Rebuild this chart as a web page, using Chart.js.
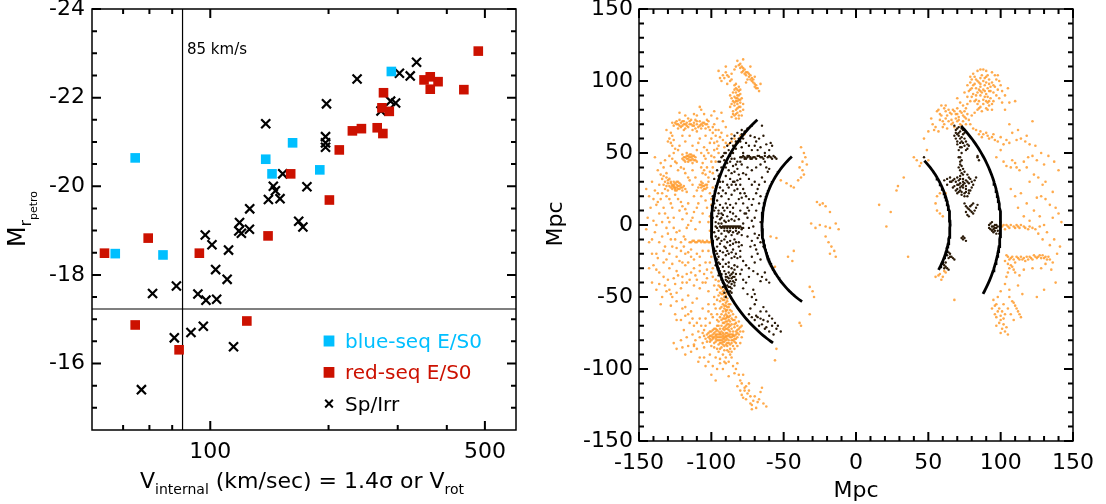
<!DOCTYPE html>
<html>
<head>
<meta charset="utf-8">
<script src="https://cdn.jsdelivr.net/npm/chart.js@4.4.1/dist/chart.umd.min.js"></script>
<style>
  html, body { margin: 0; padding: 0; background: #fff; }
  #wrap { position: relative; width: 1106px; height: 504px; }
  canvas { position: absolute; top: 0; }
  #left { left: 0; }
  #right { left: 530px; }
</style>
</head>
<body>
<div id="wrap">
  <canvas id="left" width="530" height="504"></canvas>
  <canvas id="right" width="576" height="504"></canvas>
</div>
<script>
const FONT = '"DejaVu Sans", "Liberation Sans", sans-serif';
Chart.defaults.font.family = FONT;
Chart.defaults.color = '#000';

// ---- left panel: internal velocity vs. Petrosian r magnitude ----
const blueSeqV = [64.4, 57.3, 75.8, 138.4, 143.6, 162, 190, 289];
const blueSeqM = [-20.64, -18.48, -18.45, -20.61, -20.28, -20.98, -20.37, -22.59];

const redSeqV = [53.8, 69.5, 64.4, 83.3, 93.8, 123.9, 140.3, 160.2, 201, 213, 230, 242.5,
                 266, 275, 273.5, 276, 285.5, 350, 363, 380, 363, 442, 481];
const redSeqM = [-18.49, -18.83, -16.87, -16.31, -18.49, -16.96, -18.88, -20.28, -19.69, -20.82, -21.25, -21.30,
                 -21.32, -21.19, -21.77, -22.11, -21.69, -22.40, -22.47, -22.36, -22.19, -22.18, -23.05];

const spIrrV = [66.8, 71.3, 82.0, 81.0, 89.3, 96.0, 114.6, 93.0, 97.5, 103.8, 103.2, 110.4, 97.1, 101,
                111.3, 118.2, 118.7, 125.8, 126, 120, 140.6, 144.7, 146.5, 150.5, 152.9, 138.4, 176.2,
                167.9, 172.1, 197.6, 196.5, 196.5, 196.5, 236.4, 287.7, 296.3, 303, 322.8, 335, 272];
const spIrrM = [-15.41, -17.58, -17.75, -16.58, -16.70, -16.84, -16.38, -17.57, -17.43, -17.45, -18.12, -17.90, -18.90, -18.68,
                -18.56, -18.99, -19.18, -19.03, -19.49, -18.94, -19.70, -20.00, -19.90, -19.72, -20.28, -21.41, -19.99,
                -19.21, -19.08, -21.86, -21.12, -20.98, -20.88, -22.42, -21.92, -21.88, -22.55, -22.49, -22.80, -21.70];

const vCut = 85;          // km/s divider
const magCut = -17.23;    // magnitude divider
const vRange = [50, 600];
const magRange = [-24, -14.5];
const vTicks = [100, 500];
const vMinor = [60, 70, 80, 200, 300, 400];
const magTicks = [-24, -22, -20, -18, -16];
const magMinor = [-23.5, -23, -22.5, -21.5, -21, -20.5, -19.5, -19, -18.5, -17.5, -17, -16.5, -15.5, -15];

// ---- right panel: galaxy positions in the slice (Mpc) ----
const westOrange = [
  // northern streak and knot
  [-82,114],[-81,111],[-80,109],[-79,110],[-78,107],[-77,108],[-77,105],[-76,104],[-75,106],[-74,103],
  [-73,104],[-73,101],[-72,100],[-71,101],[-70,98],[-70,96],[-69,97],[-68,95],[-67,93],[-75,101],[-76,99],
  [-80,112],[-78,109],[-76,106],[-74,105],[-72,102],[-71,99],[-69,95],[-79,106],[-84,108],[-83,110],
  [-86,101],[-89,104],[-94,102],[-95,107],[-90,110],[-78,115],[-73,110],[-70,103],[-66,98],
  [-92,104],[-90,106],[-91,102],[-88,103],[-87,100],[-89,98],[-86,105],[-93,100],
  [-84,97],[-83,95],[-82,94],[-81,93],[-83,92],[-82,90],[-80,91],[-84,89],[-82,88],[-81,87],[-83,86],
  [-80,85],[-82,84],[-84,83],[-81,82],[-83,80],[-85,79],[-82,78],[-80,79],[-84,76],[-86,75],[-83,74],
  [-81,76],[-79,88],[-78,84],[-86,88],[-85,92],[-87,82],
  [-83,98],[-84,94],[-81,90],[-83,88],[-80,87],[-82,86],[-84,85],[-82,81],[-80,82],[-83,77],[-85,77],
  [-81,74],[-79,76],[-78,80],[-86,84],[-85,86],[-87,90],[-81,96],[-80,94],
  // band near y = 70
  [-126,69],[-124,72],[-123,70],[-122,73],[-121,71],[-120,69],[-119,72],[-118,70],[-117,71],[-116,68],
  [-115,72],[-114,70],[-113,69],[-112,71],[-111,73],[-110,70],[-109,68],[-108,72],[-107,70],[-106,69],
  [-105,71],[-104,67],[-103,70],[-121,68],[-118,67],[-116,74],[-113,66],[-110,65],[-123,67],[-119,66],
  [-114,73],[-108,82],[-107,80],[-112,77],[-118,76],[-100,76],[-102,72],[-98,70],[-96,74],
  [-125,71],[-122,69],[-120,72],[-117,69],[-115,70],[-112,69],[-110,72],[-108,69],[-106,71],[-104,70],
  [-102,68],[-119,70],[-124,70],[-127,71],[-111,67],[-107,67],[-103,73],[-99,68],[-97,66],
  [-131,66],[-120,62],[-115,62],[-108,60],[-104,62],[-122,78],[-110,76],[-105,77],[-98,79],[-93,78],
  [-92,72],[-90,68],[-95,66],[-93,64],[-89,62],[-86,63],[-84,60],[-80,62],[-77,63],[-81,58],
  [-128,64],[-127,62],[-129,60],[-126,59],[-128,57],[-127,55],[-125,53],[-130,58],
  [-101,66],[-99,64],[-97,62],[-100,60],[-96,58],[-94,61],[-92,59],[-90,57],[-88,56],[-86,58],
  [-84,55],[-83,57],[-95,55],[-98,57],[-91,54],
  [-122,55],[-118,58],[-113,55],[-109,57],[-105,54],[-102,50],[-100,44],[-99,40],[-98,47],[-96,53],
  [-101,57],[-103,52],[-105,48],[-106,43],[-103,40],[-101,37],
  // knot near (-115, 46)
  [-120,49],[-118,47],[-117,48],[-116,46],[-115,47],[-114,45],[-113,46],[-112,48],[-111,45],[-116,44],
  [-119,45],[-114,49],[-113,43],[-117,50],[-115,45],[-118,44],
  [-117,46],[-115,49],[-113,48],[-112,45],[-114,47],[-116,48],[-119,47],[-111,47],[-110,44],[-120,46],
  [-126,50],[-123,52],[-129,48],[-132,45],[-125,44],[-121,40],[-110,52],[-107,50],[-104,46],[-100,48],
  [-98,52],[-133,40],[-137,38],[-123,38],[-118,36],[-113,38],[-111,33],[-115,31],
  [-116,33],[-119,39],[-124,43],[-128,41],[-131,36],[-135,43],[-139,47],[-127,46],
  [-107,40],[-105,38],[-104,35],[-102,33],[-106,36],
  [-135,35],[-133,34],[-131,33],[-129,32],[-132,30],[-128,29],[-130,31],[-134,32],
  // groups near (-125, 27) and (-106, 27)
  [-127,28],[-126,27],[-125,26],[-124,28],[-123,27],[-122,25],[-121,26],[-125,29],[-127,25],[-120,24],
  [-119,27],[-128,26],[-124,24],[-126,30],[-122,29],[-125,24],[-123,30],
  [-126,26],[-124,26],[-123,25],[-122,27],[-121,28],[-127,27],[-129,27],[-130,29],[-125,25],[-124,30],
  [-126,28],[-120,26],[-118,25],[-117,23],[-131,27],[-133,28],[-128,30],[-132,25],
  [-108,28],[-107,26],[-106,27],[-105,25],[-104,28],[-106,24],[-103,26],[-107,30],
  [-105,27],[-106,29],[-104,25],[-107,28],[-103,28],[-109,26],
  [-125,21],[-123,18],[-121,16],[-120,13],[-118,11],[-117,8],[-116,15],[-122,10],
  [-140,18],[-142,12],[-144,5],[-140,3],[-145,-3],[-143,-12],[-141,-20],[-143,-30],
  [-138,-20],[-134,-8],[-131,-2],[-136,8],[-145,25],[-137,22],
  [-138,14],[-135,18],[-133,12],[-139,-5],[-136,-12],[-132,-15],[-130,5],[-128,15],[-131,20],[-112,20],
  [-110,12],[-113,5],[-108,2],[-111,-3],[-106,8],[-104,17],[-116,0],[-120,4],[-126,5],[-124,-5],[-128,-10],
  [-143,20],[-139,24],[-141,30],[-136,28],[-134,22],[-130,24],[-137,16],[-129,18],[-127,12],[-132,8],
  [-129,2],[-126,-2],[-122,-4],[-119,-8],[-117,-2],[-114,3],[-112,9],[-109,15],[-107,20],[-110,24],[-113,28],
  [-102,30],[-101,22],[-100,18],[-103,12],[-101,6],[-99,36],[-97,44],[-95,50],
  [-99,26],[-100,14],[-102,2],[-101,-4],[-100,-8],
  // filaments south of the equator
  [-115,-12],[-113,-11],[-111,-12],[-109,-11],[-107,-12],[-105,-12],[-103,-11],[-101,-12],[-118,-10],[-99,-13],
  [-114,-12],[-112,-11],[-110,-12],[-108,-11],[-106,-11],[-104,-12],[-102,-12],[-100,-11],
  [-124,-16],[-121,-18],[-119,-15],[-116,-19],[-114,-17],
  [-140,-28],[-138,-31],[-136,-33],
  [-126,-37],[-123,-35],[-120,-36],[-117,-34],[-114,-33],[-111,-35],[-108,-32],[-105,-34],[-103,-31],[-130,-38],[-133,-36],
  [-131,-24],[-127,-27],[-122,-25],[-118,-28],[-112,-24],[-108,-22],[-104,-26],[-100,-22],[-99,-30],
  [-102,-18],[-101,-26],[-99,-36],[-98,-42],[-97,-38],[-100,-33],[-103,-37],[-106,-40],[-110,-38],[-115,-38],
  [-120,-40],[-124,-32],[-129,-30],[-133,-26],[-137,-23],[-141,-10],[-138,0],[-134,2],[-130,-6],[-127,-15],
  [-124,-22],[-120,-26],[-116,-26],[-112,-30],[-108,-28],[-106,-18],[-110,-20],[-114,-22],[-118,-20],
  [-121,-12],[-125,-10],[-129,-20],[-133,-18],
  [-125,-41],[-121,-44],[-117,-40],[-112,-42],[-108,-44],[-104,-40],[-102,-46],[-98,-50],[-134,-50],
  [-138,-45],[-141,-40],[-118,-57],[-114,-60],[-106,-58],[-102,-55],[-100,-62],[-108,-65],[-104,-70],[-96,-66],
  [-136,-41],[-132,-42],[-128,-48],[-124,-53],[-120,-58],[-116,-62],[-113,-65],[-110,-68],[-107,-70],[-105,-73],
  [-95,-42],[-93,-44],[-91,-45],[-94,-47],[-92,-48],[-90,-49],[-93,-51],[-91,-52],[-89,-53],[-92,-55],
  [-90,-56],[-88,-57],[-91,-58],[-89,-59],[-87,-55],[-94,-53],[-96,-45],[-95,-39],
  [-94,-43],[-92,-46],[-90,-47],[-93,-48],[-91,-50],[-89,-51],[-92,-52],[-90,-54],[-88,-55],[-91,-56],
  [-89,-57],[-93,-57],[-87,-59],[-90,-59],[-95,-49],[-94,-58],
  [-131,-46],[-127,-50],[-124,-47],[-120,-52],[-116,-49],[-113,-54],[-110,-51],[-135,-55],[-128,-56],[-129,-45],
  // dense southern concentration
  [-92,-60],[-90,-62],[-89,-64],[-91,-65],[-88,-66],[-90,-67],[-92,-68],[-89,-69],[-87,-70],[-91,-71],
  [-93,-62],[-88,-61],[-90,-60],[-87,-63],[-93,-66],
  [-89,-63],[-91,-63],[-88,-64],[-90,-65],[-92,-65],[-89,-67],[-91,-68],[-88,-69],[-93,-70],[-90,-72],
  [-87,-67],[-86,-65],[-84,-66],[-82,-73],
  [-86,-60],[-85,-62],[-83,-64],[-81,-67],[-79,-70],[-96,-62],[-97,-58],[-98,-55],[-96,-52],[-94,-64],
  [-95,-67],[-99,-64],[-102,-60],[-104,-65],[-101,-68],
  [-103,-76],[-102,-78],[-101,-74],[-100,-77],[-99,-79],[-98,-75],[-97,-77],[-96,-80],[-95,-76],[-94,-78],
  [-93,-74],[-92,-77],[-91,-79],[-90,-75],[-89,-77],[-88,-80],[-87,-76],[-86,-78],[-85,-74],[-84,-77],
  [-83,-79],[-82,-75],[-81,-72],[-96,-73],[-94,-82],[-92,-81],[-90,-83],[-98,-82],[-100,-80],[-86,-82],
  [-84,-71],[-88,-73],[-95,-70],[-97,-72],[-93,-85],[-89,-84],[-83,-68],[-85,-66],[-99,-73],[-101,-81],
  [-87,-86],[-91,-73],[-94,-75],[-85,-80],[-97,-79],[-92,-75],[-90,-78],[-88,-76],[-86,-72],[-95,-80],
  [-102,-75],[-101,-77],[-100,-74],[-99,-76],[-98,-78],[-97,-74],[-96,-76],[-95,-78],[-94,-76],[-93,-78],
  [-92,-79],[-91,-76],[-90,-77],[-89,-79],[-88,-77],[-87,-78],[-86,-76],[-85,-77],[-84,-79],[-83,-76],
  [-82,-78],[-81,-76],[-80,-74],[-98,-72],[-96,-70],[-94,-72],[-92,-72],[-90,-70],[-88,-71],[-86,-69],
  [-84,-69],[-82,-70],[-80,-71],[-97,-81],[-95,-83],[-93,-82],[-91,-84],[-89,-82],[-87,-83],[-85,-84],
  [-83,-82],[-91,-87],[-89,-87],[-94,-86],[-88,-88],[-92,-90],[-90,-92],[-87,-90],
  [-93,-76],[-91,-78],[-89,-75],[-87,-74],[-85,-76],[-83,-74],[-95,-74],[-97,-76],[-99,-78],[-101,-79],
  [-96,-78],[-94,-80],[-92,-83],[-90,-80],[-88,-82],[-86,-80],[-84,-81],[-91,-81],[-93,-80],[-89,-72],
  [-104,-79],[-103,-81],[-105,-77],[-106,-75],[-100,-84],[-98,-85],[-96,-86],[-95,-88],
  [-86,-88],[-84,-86],[-82,-84],[-80,-82],[-79,-78],[-78,-74],
  [-108,-78],[-106,-82],[-111,-80],[-105,-85],[-112,-84],[-110,-86],
  [-109,-74],[-113,-76],[-117,-78],[-121,-80],[-126,-82],[-114,-88],[-118,-90],
  [-125,-62],[-121,-66],[-118,-63],[-115,-68],[-112,-70],[-124,-66],[-119,-73],
  [-124,-86],[-120,-85],[-116,-84],[-112,-83],
  [-102,-95],[-99,-98],[-96,-100],[-94,-96],[-108,-92],[-104,-98],[-100,-104],[-97,-108],[-92,-100],
  [-90,-96],[-88,-105],[-109,-95],[-105,-92],[-101,-90],[-97,-92],[-94,-93],[-91,-95],[-88,-95],
  [-86,-92],[-82,-96],[-84,-103],[-80,-108],[-82,-112],[-77,-115],[-75,-117],[-73,-119],[-71,-122],[-66,-116],
  [-79,-118],[-76,-121],[-72,-125],[-69,-127],[-74,-110],[-85,-98],[-78,-104],
  [-83,-100],[-81,-104],[-79,-110],[-77,-113],[-74,-115],[-78,-120],[-70,-119],[-68,-123],[-73,-124],
  [-76,-112],[-80,-115],[-72,-128],[-67,-121],[-65,-113],[-64,-124],[-62,-126],
  // beyond the inner shell
  [-38,54],[-36,50],[-35,47],[-37,44],[-34,42],[-39,40],[-37,38],[-36,35],[-38,33],[-40,31],
  [-52,31],[-48,29],[-45,27],[-43,26],
  [-27,16],[-25,14],[-23,15],[-21,13],[-18,9],
  [-31,1],[-28,-2],[-25,0],[-21,-1],[-18,-2],[-14,1],[-12,-3],
  [-21,-8],[-19,-12],[-17,-15],[-15,-18],[-18,-20],[-14,-22],
  [-59,-8],[-55,-9],[-43,-18],[-47,-22],[-44,-25],[-56,-29],
  [-32,-43],[-30,-46],[-29,-50],[-32,-62],[-39,-68],[-38,-70],[-55,-86],[-56,-94]
];
const midOrange = [[16,14],[24,9],[21,-1],[36,-22],[29,27],[28,24]];
const eastOrange = [
  [79,103],[81,105],[83,101],[85,99],[87,104],[89,102],[91,104],[92,98],[94,99],[96,96],
  [90,91],[88,94],[86,90],[84,92],[83,87],[88,84],[90,81],[91,80],[77,84],[93,88],
  [95,92],[89,97],[86,96],[80,95],[82,98],[97,101],[99,100],[92,86],[94,84],[85,86],[81,91],
  [80,101],[82,103],[84,100],[86,102],[88,100],[90,103],[92,101],[93,96],[91,95],[89,93],
  [87,92],[85,94],[83,95],[81,97],[79,99],[78,93],[80,89],[82,86],[84,84],[86,82],
  [88,87],[90,86],[92,83],[94,80],[87,79],[85,81],[89,89],[91,89],[93,93],[95,97],
  [98,94],[100,97],[101,93],[84,107],[88,108],[96,104],[90,99],[86,98],[92,93],
  [77,89],[79,86],[76,81],[74,83],[72,85],[70,88],[75,92],[77,97],[79,94],[83,90],
  [86,93],[91,85],[95,86],[97,90],[99,88],[101,85],[103,90],[105,95],[98,104],[94,106],[90,107],[86,108],
  [106,85],[110,86],[103,80],[122,72],
  [56,79],[58,77],[61,81],[63,76],[65,78],[67,80],[70,81],[72,79],[74,76],[76,74],
  [60,72],[62,74],[66,73],[69,74],[72,70],[55,68],[53,70],[68,68],[78,73],[75,79],
  [57,80],[59,76],[62,79],[64,80],[66,77],[68,79],[70,77],[71,75],[73,78],[75,75],
  [77,77],[58,73],[61,70],[64,72],[67,71],[70,72],[73,69],[76,70],[54,66],[57,65],[60,68],[63,67],
  [66,70],[69,77],[71,73],[74,72],[79,70],[81,67],[83,66],[80,76],[82,78],[84,80],
  [62,83],[59,83],[52,74],[50,65],[47,60],[49,52],
  [86,65],[88,63],[91,62],[94,61],[96,59],[104,59],[106,57],[111,59],[117,58],
  [85,63],[87,61],[90,64],[92,60],[95,63],[98,58],[100,61],[102,56],
  [108,64],[114,60],[120,56],[108,45],[111,40],[118,40],[123,35],[100,52],[97,47],
  [102,44],[104,41],[107,40],[110,43],[113,38],[116,44],[119,47],[122,48],[125,45],[130,42],
  [106,70],[112,66],[118,62],[124,55],[128,50],[133,48],[137,44],[140,38],[126,33],[131,30],
  [120,30],[114,22],[118,15],[123,10],[127,6],[132,-5],[137,-10],[141,-15],[138,-40],[130,-45],[125,-50],
  [107,25],[110,20],[112,12],[116,6],[120,3],[126,-6],[129,-10],[134,-14],[139,-20],
  [125,19],[128,20],[131,18],[134,14],[138,12],[140,8],[136,5],[142,2],[129,28],[136,23],
  [101,-1],[104,0],[106,-2],[109,-1],[111,0],[113,-2],[116,-1],[119,-3],[122,-2],[100,2],
  [102,0],[105,-1],[107,0],[110,-2],[112,-1],[114,0],[117,-2],[120,-1],[124,-3],[127,-1],[130,0],[103,-3],
  [104,-21],[106,-24],[108,-22],[110,-26],[112,-23],[115,-24],[118,-22],[121,-23],[124,-22],[127,-21],
  [130,-23],[133,-22],[134,-24],[107,-28],[109,-31],[105,-33],[135,-31],
  [105,-22],[107,-23],[109,-24],[111,-22],[113,-24],[114,-22],[116,-23],[117,-25],[119,-24],[120,-22],
  [122,-24],[123,-21],[125,-23],[126,-22],[128,-23],[129,-21],[131,-22],[132,-24],[103,-25],[105,-27],
  [108,-29],[106,-30],[110,-33],[104,-36],
  [136,-26],[131,-27],[128,-30],[122,-30],[116,-31],[113,-35],[112,-42],[115,-48],[106,-45],[103,-41],
  [100,-46],[98,-50],
  [95,-52],[97,-55],[99,-58],[101,-60],[103,-62],[100,-66],[102,-69],[104,-71],[96,-62],[110,-56],
  [112,-60],[114,-64],[108,-53],
  [96,-56],[98,-60],[100,-63],[102,-65],[99,-68],[101,-72],[103,-74],[105,-76],[97,-64],[94,-58],
  [111,-58],[113,-62],[109,-54],[106,-50],
  [102,-55],[105,-58],[107,-62],[109,-66],[97,-70],[100,-75],
  [42,45],[44,41],[33,33],[56,10],[58,8],[60,6],[58,-34],[60,-36],[62,-33],[68,-52],[56,20],[60,25],[50,45],
  [45,43],[40,47],[55,15],[58,22],[62,22],[57,-35],[59,-38],[61,-32],[55,-36]
];
const westBlack = [
  [-65,69],[-59,57],[-58,55],
  [-80,47],[-78,48],[-77,47],[-76,46],[-75,47],[-74,48],[-73,47],[-72,46],[-70,47],[-68,48],
  [-66,47],[-64,46],[-60,48],[-59,47],[-58,46],[-57,48],[-56,47],[-55,46],
  [-79,47],[-77,46],[-75,48],[-73,46],[-71,47],[-69,46],[-67,48],[-65,47],[-63,48],[-61,47],
  [-62,40],[-61,37],[-60,39],
  [-86,60],[-84,62],[-82,57],[-88,52],[-85,50],[-83,53],
  [-76,57],[-74,55],[-72,52],[-70,55],[-78,60],[-82,64],[-79,66],[-73,62],[-68,52],[-66,54],[-63,50],
  [-95,44],[-93,47],[-91,50],[-89,55],[-87,57],[-85,55],[-83,58],[-81,60],[-79,63],[-77,65],[-75,67],
  [-72,69],[-70,61],[-69,58],[-67,60],[-64,62],[-62,56],[-60,52],
  [-91,45],[-89,43],[-87,44],[-85,41],[-83,42],[-88,38],[-86,36],[-84,37],[-82,39],[-90,34],
  [-87,32],[-85,30],[-82,31],[-89,28],[-83,28],[-81,35],[-93,40],[-94,30],
  [-96,28],[-94,26],[-92,24],[-90,22],[-88,26],[-86,28],[-84,30],[-92,30],[-95,34],[-90,40],
  [-87,48],[-84,46],[-82,44],[-86,46],[-90,50],[-92,48],[-94,44],[-96,38],[-98,32],
  [-63,44],[-66,42],[-69,40],[-72,38],[-75,40],[-78,36],[-80,32],[-82,25],[-80,22],[-78,15],
  [-80,58],[-79,54],[-78,50],[-80,44],[-79,42],
  [-80,28],[-78,25],[-77,22],[-79,19],[-76,20],
  [-76,35],[-74,32],[-72,28],[-70,30],[-68,25],[-66,20],[-67,15],[-69,10],[-72,14],[-74,18],[-75,12],
  [-76,8],[-74,10],[-71,18],[-69,22],[-67,28],[-65,33],[-63,30],
  [-97,25],[-95,22],[-93,20],[-96,17],[-94,14],[-92,12],[-90,15],[-88,18],[-86,21],[-84,24],
  [-98,10],[-95,8],[-93,5],[-91,3],[-89,6],[-87,9],[-85,12],[-83,15],[-81,18],[-99,20],[-98,15],[-99,5],
  [-97,12],[-95,10],[-93,8],[-91,10],[-89,12],[-87,14],[-85,8],[-83,6],[-81,4],[-96,6],[-94,4],
  [-92,7],[-90,2],[-88,3],[-86,4],[-84,3],[-98,20],
  [-80,10],[-77,8],[-75,5],[-72,3],[-78,1],[-74,-2],[-71,-1],[-79,-3],[-70,5],[-66,2],[-65,-4],
  [-94,-1],[-93,-2],[-92,-1],[-91,-2],[-90,-1],[-89,-2],[-88,-1],[-87,-2],[-86,-1],[-85,-2],
  [-84,-1],[-83,-2],[-82,-1],[-81,-2],[-80,-1],[-78,-2],
  [-93,-1.5],[-91,-1],[-89,-1],[-87,-1],[-85,-1],[-83,-1],[-81,-1],[-79,-2],
  [-97,2],[-95,-4],[-93,-6],[-90,-8],[-88,-5],[-86,-7],[-84,-10],[-82,-6],[-98,-5],[-99,-12],
  [-96,-2],[-95,1],[-93,1],[-91,-4],[-89,-4],[-87,-4],[-85,-5],[-83,-4],[-81,-5],[-79,-7],[-97,-1],
  [-96,-10],[-94,-13],[-91,-15],[-89,-18],[-87,-14],[-85,-17],[-83,-20],[-81,-12],
  [-97,-8],[-95,-9],[-93,-11],[-91,-10],[-89,-12],[-87,-11],[-85,-13],[-83,-12],[-81,-15],[-79,-14],
  [-96,-15],[-94,-18],[-92,-19],[-90,-16],[-88,-20],[-86,-19],[-84,-22],[-82,-23],[-80,-18],
  [-97,-18],[-95,-22],[-92,-24],[-90,-21],[-88,-26],[-86,-23],[-84,-28],[-97,-28],[-95,-35],
  [-96,-24],[-94,-27],[-92,-29],[-90,-27],[-88,-29],[-86,-30],[-84,-31],[-82,-29],[-93,-34],[-95,-30],
  [-96,-20],[-95,-26],[-94,-32],[-93,-38],[-92,-43],[-91,-47],[-90,-50],[-88,-48],[-86,-47],
  [-75,-8],[-72,-11],[-70,-14],[-69,-17],[-73,-15],[-70,-6],[-68,-9],[-66,-12],[-64,-15],[-67,-7],
  [-68,-20],[-66,-24],[-70,-26],[-72,-22],
  [-80,-22],[-78,-25],[-76,-28],[-74,-30],[-79,-31],
  [-91,-32],[-90,-34],[-89,-36],[-88,-33],[-87,-35],[-86,-37],[-85,-39],[-84,-36],[-83,-38],[-90,-38],
  [-88,-40],[-86,-41],[-89,-42],[-87,-43],[-85,-33],[-84,-42],[-92,-40],[-83,-34],
  [-90,-36],[-88,-37],[-87,-39],[-89,-39],[-86,-34],[-85,-36],[-84,-40],[-91,-41],[-88,-43],[-86,-44],
  [-90,-44],[-87,-46],[-89,-46],
  [-71,-32],[-68,-34],[-65,-36],[-62,-38],[-60,-40],[-66,-39],[-63,-33],
  [-74,-36],[-76,-40],[-78,-44],[-75,-48],[-78,-38],[-80,-34],
  [-71,-45],[-70,-48],[-69,-52],[-70,-55],[-73,-58],[-72,-50],
  [-68,-64],[-66,-65],[-64,-66],[-69,-63],[-61,-67],[-58,-70],[-55,-72],[-52,-74],
  [-74,-62],[-72,-64],[-70,-66],[-65,-69],[-62,-71],[-67,-70],[-60,-74],[-57,-76],[-54,-70],[-56,-68],
  [-66,-60],[-64,-57],[-62,-60],[-60,-63],[-58,-65],[-63,-72]
];
const eastBlack = [
  [68,69],[70,67],[72,65],[74,63],[71,62],[69,60],[73,58],[75,60],[77,56],[70,56],
  [72,54],[76,52],[78,55],[74,66],[71,68],[69,64],[73,61],
  [69,66],[71,64],[73,67],[75,64],[72,60],[70,58],[74,57],[76,58],[72,57],[70,63],
  [68,62],[73,54],[75,55],[77,53],[71,52],[73,50],
  [71,47],[72,44],[73,41],[74,39],[72,38],[47,47],[84,47],[85,45],[84,48],
  [72,47],[73,45],[72,42],[71,40],[73,36],[75,37],
  [65,33],[67,31],[69,30],[71,28],[73,27],[75,29],[77,30],[70,25],[72,24],[74,26],
  [76,23],[78,22],[70,22],[73,21],[75,20],[68,27],[80,26],[82,31],[83,33],[79,32],
  [71,31],[74,32],[76,27],[72,29],[61,31],[63,28],
  [66,30],[68,32],[70,33],[72,32],[74,30],[76,31],[78,29],[70,28],[72,26],[74,28],
  [76,25],[78,24],[71,23],[73,23],[75,22],[77,20],[79,24],[81,28],[69,24],[67,26],
  [65,30],[63,32],[80,30],[78,33],[77,35],[74,35],[72,34],
  [75,15],[77,12],[79,10],[81,8],[83,12],[78,6],[80,14],[76,9],
  [76,13],[78,11],[80,9],[82,10],[79,13],[77,7],[81,15],[84,14],
  [93,1],[94,-1],[95,-3],[96,-2],[97,0],[98,-4],[99,-6],[95,-5],[94,2],[92,-2],
  [92,0],[93,-3],[95,-1],[96,0],[97,-2],[98,-1],[96,-4],[94,-4],[97,-6],
  [73,-9],[74,-10],[76,-11],[74,-8],[75,-9],
  [63,-18],[65,-20],[66,-22],[68,-24],[64,-23],
  [64,-19],[65,-22],[67,-23],[63,-21],[62,-26],[61,-28],[63,-30],
  [60,-27],[62,-29],[64,-31],[61,-30]
];

// distance shells (radius in Mpc, angular extent in degrees)
const shellRadius = [100, 65, 65, 100];
const shellFrom = [133, 133, -28.6, -28.6];
const shellTo = [235, 235, 44.3, 44.3];

const mpcRange = [-150, 150];
const mpcTicks = [-150, -100, -50, 0, 50, 100, 150];
const mpcMinor = [-140, -130, -120, -110, -90, -80, -70, -60, -40, -30, -20, -10,
                  10, 20, 30, 40, 60, 70, 80, 90, 110, 120, 130, 140];

// ---- helpers ----
const toXY = (xs, ys) => xs.map((x, i) => ({ x: x, y: ys[i] }));
const pairs = list => list.map(p => ({ x: p[0], y: p[1] }));

function arcPoints(r, a0, a1) {
  const pts = [];
  for (let a = a0; a <= a1 + 1e-9; a += 1) {
    const t = a * Math.PI / 180;
    pts.push({ x: r * Math.cos(t), y: r * Math.sin(t) });
  }
  return pts;
}

function fixY(width) {
  return s => { s.width = width; s.paddingTop = 0; s.paddingBottom = 0; };
}
function fixX(height) {
  return s => { s.height = height; s.paddingLeft = 0; s.paddingRight = 0; };
}

function richWidth(ctx, segs) {
  let w = 0;
  segs.forEach(s => { ctx.font = s.size + 'px ' + FONT; w += ctx.measureText(s.text).width; });
  return w;
}
function drawRich(ctx, segs, cx, base, angle) {
  ctx.save();
  ctx.translate(cx, base);
  ctx.rotate(angle);
  ctx.textAlign = 'left';
  ctx.textBaseline = 'alphabetic';
  let x = -richWidth(ctx, segs) / 2;
  segs.forEach(s => {
    ctx.font = s.size + 'px ' + FONT;
    ctx.fillStyle = s.color || '#000';
    ctx.fillText(s.text, x, s.dy || 0);
    x += ctx.measureText(s.text).width;
  });
  ctx.restore();
}

// frame with inward ticks on all four sides, drawn from the chart's own scales
const framePlugin = {
  id: 'frame',
  afterDraw(chart) {
    const spec = chart.config.options.frameSpec;
    const ctx = chart.ctx;
    const a = chart.chartArea;
    const sx = chart.scales.x;
    const sy = chart.scales.y;
    ctx.save();
    ctx.strokeStyle = '#000';
    ctx.lineWidth = 1.5;
    ctx.strokeRect(a.left, a.top, a.right - a.left, a.bottom - a.top);
    ctx.lineWidth = 2;
    ctx.beginPath();
    const marks = [
      [spec.xMajor, 9, true], [spec.xMinor, 5, true],
      [spec.yMajor, 9, false], [spec.yMinor, 5, false]
    ];
    for (const [vals, len, isX] of marks) {
      for (let i = 0; i < vals.length; i++) {
        if (isX) {
          const px = sx.getPixelForValue(vals[i]);
          ctx.moveTo(px, a.bottom); ctx.lineTo(px, a.bottom - len);
          ctx.moveTo(px, a.top); ctx.lineTo(px, a.top + len);
        } else {
          const py = sy.getPixelForValue(vals[i]);
          ctx.moveTo(a.left, py); ctx.lineTo(a.left + len, py);
          ctx.moveTo(a.right, py); ctx.lineTo(a.right - len, py);
        }
      }
    }
    ctx.stroke();
    ctx.restore();
    spec.extra(ctx, a);
  }
};

// ---- left chart ----
new Chart(document.getElementById('left'), {
  type: 'scatter',
  data: {
    datasets: [
      { label: 'blue-seq E/S0', data: toXY(blueSeqV, blueSeqM), pointStyle: 'rect', pointRadius: 6.8,
        backgroundColor: '#00bfff', borderWidth: 0 },
      { label: 'red-seq E/S0', data: toXY(redSeqV, redSeqM), pointStyle: 'rect', pointRadius: 6.8,
        backgroundColor: '#cc1100', borderWidth: 0 },
      { label: 'Sp/Irr', data: toXY(spIrrV, spIrrM), pointStyle: 'crossRot', pointRadius: 6.4,
        borderColor: '#000', borderWidth: 2.2 },
      { data: [{ x: vCut, y: magRange[0] }, { x: vCut, y: magRange[1] }], showLine: true,
        pointRadius: 0, borderColor: '#000', borderWidth: 1.2 },
      { data: [{ x: vRange[0], y: magCut }, { x: vRange[1], y: magCut }], showLine: true,
        pointRadius: 0, borderColor: '#000', borderWidth: 1.2 }
    ]
  },
  options: {
    responsive: false,
    animation: false,
    layout: { padding: { left: 0, top: 9, right: 14, bottom: 0 } },
    frameSpec: {
      xMajor: vTicks, xMinor: vMinor, yMajor: magTicks, yMinor: magMinor,
      extra(ctx, a) {
        ctx.save();
        ctx.fillStyle = '#000';
        ctx.font = '15px ' + FONT;
        ctx.textBaseline = 'alphabetic';
        ctx.fillText('85 km/s', 187, 54);
        // legend
        const items = [
          { text: 'blue-seq E/S0', color: '#00bfff', style: 'rect' },
          { text: 'red-seq E/S0', color: '#cc1100', style: 'rect' },
          { text: 'Sp/Irr', color: '#000', style: 'crossRot' }
        ];
        items.forEach((it, i) => {
          const cy = 341 + i * 31.3;
          ctx.fillStyle = it.color;
          ctx.strokeStyle = it.color;
          ctx.lineWidth = 2;
          Chart.helpers.drawPoint(ctx, { pointStyle: it.style, radius: it.style === 'rect' ? 6.2 : 5.4,
            rotation: 0, borderWidth: 2 }, 329, cy);
          ctx.font = '20px ' + FONT;
          ctx.fillStyle = it.color;
          ctx.fillText(it.text, 345, cy + 7);
        });
        ctx.restore();
        drawRich(ctx, [
          { text: 'V', size: 22 },
          { text: 'internal', size: 14, dy: 6 },
          { text: ' (km/sec) = 1.4\u03c3 or V', size: 22 },
          { text: 'rot', size: 14, dy: 6 }
        ], 302, 488, 0);
        drawRich(ctx, [
          { text: 'M', size: 24 },
          { text: 'r', size: 15, dy: 6 },
          { text: 'petro', size: 11, dy: 12 }
        ], 25, 219, -Math.PI / 2);
      }
    },
    plugins: {
      legend: { display: false },
      tooltip: { enabled: false }
    },
    scales: {
      x: {
        type: 'logarithmic', min: vRange[0], max: vRange[1],
        afterBuildTicks: s => { s.ticks = vTicks.map(v => ({ value: v })); },
        afterFit: fixX(74),
        grid: { display: false, drawTicks: false },
        border: { display: false },
        ticks: { font: { size: 22 }, padding: 9, maxRotation: 0, autoSkip: false,
                 callback: v => String(v) }
      },
      y: {
        type: 'linear', reverse: true, min: magRange[0], max: magRange[1],
        afterBuildTicks: s => { s.ticks = magTicks.map(v => ({ value: v })); },
        afterFit: fixY(92),
        grid: { display: false, drawTicks: false },
        border: { display: false },
        ticks: { font: { size: 22 }, padding: 7, callback: v => String(v) }
      }
    }
  },
  plugins: [framePlugin]
});

// ---- right chart ----
const shellSets = shellRadius.map((r, i) => ({
  data: arcPoints(r, shellFrom[i], shellTo[i]), showLine: true, pointRadius: 0,
  borderColor: '#000', borderWidth: 2.8, tension: 0
}));

new Chart(document.getElementById('right'), {
  type: 'scatter',
  data: {
    datasets: [
      ...shellSets,
      { data: pairs(westBlack.concat(eastBlack)), pointRadius: 1.2, backgroundColor: '#2a1a08', borderWidth: 0 },
      { data: pairs(westOrange.concat(midOrange, eastOrange)), pointRadius: 1.3,
        backgroundColor: 'rgba(255,155,45,0.85)', borderWidth: 0 }
    ]
  },
  options: {
    responsive: false,
    animation: false,
    layout: { padding: { left: 0, top: 9, right: 33, bottom: 0 } },
    frameSpec: {
      xMajor: mpcTicks, xMinor: mpcMinor, yMajor: mpcTicks, yMinor: mpcMinor,
      extra(ctx, a) {
        drawRich(ctx, [{ text: 'Mpc', size: 22 }], 326, 497, 0);
        drawRich(ctx, [{ text: 'Mpc', size: 22 }], 32, 224, -Math.PI / 2);
      }
    },
    plugins: {
      legend: { display: false },
      tooltip: { enabled: false }
    },
    scales: {
      x: {
        type: 'linear', min: mpcRange[0], max: mpcRange[1],
        afterBuildTicks: s => { s.ticks = mpcTicks.map(v => ({ value: v })); },
        afterFit: fixX(63),
        grid: { display: false, drawTicks: false },
        border: { display: false },
        ticks: { font: { size: 22 }, padding: 9, maxRotation: 0, autoSkip: false }
      },
      y: {
        type: 'linear', min: mpcRange[0], max: mpcRange[1],
        afterBuildTicks: s => { s.ticks = mpcTicks.map(v => ({ value: v })); },
        afterFit: fixY(109),
        grid: { display: false, drawTicks: false },
        border: { display: false },
        ticks: { font: { size: 22 }, padding: 6 }
      }
    }
  },
  plugins: [framePlugin]
});
</script>
</body>
</html>
